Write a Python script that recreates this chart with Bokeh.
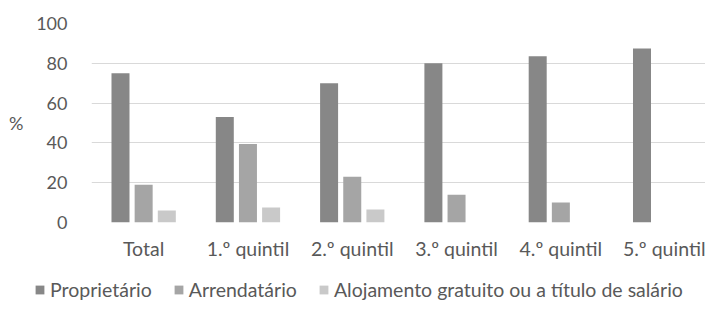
import numpy as np
from bokeh.plotting import figure
from bokeh.layouts import column, row
from bokeh.models import (ColumnDataSource, Range1d, FixedTicker, Legend, LegendItem, LinearAxis, Spacer)
from bokeh.transform import dodge
from bokeh.embed import file_html
from bokeh.resources import INLINE

categories = ["Total", "1.º quintil", "2.º quintil", "3.º quintil", "4.º quintil", "5.º quintil"]
series_names = ["Proprietário", "Arrendatário", "Alojamento gratuito ou a título de salário"]
proprietario = [75, 53, 70, 80, 83.5, 87.5]
arrendatario = [19, 39.5, 23, 14, 10, None]
alojamento = [6, 7.5, 6.5, None, None, None]
y_ticks = [0, 20, 40, 60, 80, 100]
y_title = "%"

colors = ["#878787", "#a5a5a5", "#c9c9c9"]
TXT = "#595959"
FONT = "Lato"
FS = "19.5px"

idx = list(range(len(categories)))
src = ColumnDataSource(dict(
    x=idx,
    s0=np.array(proprietario, dtype=float),
    s1=np.array([np.nan if v is None else v for v in arrendatario], dtype=float),
    s2=np.array([np.nan if v is None else v for v in alojamento], dtype=float),
))

W = 705
H_MAIN, H_LEG = 262, 39
left, top = 91, 23
bottom = H_MAIN - 223
frame_w = W - left
cat_px = 104.3

p = figure(width=W, height=H_MAIN, output_backend="svg", toolbar_location=None,
           x_range=Range1d(-0.5, -0.5 + frame_w / cat_px), y_range=Range1d(0, 100),
           min_border_left=left, min_border_right=0, min_border_top=top,
           min_border_bottom=bottom)
p.outline_line_color = None
p.background_fill_color = None
p.border_fill_color = None

offsets = [-0.222, 0.0, 0.222]
bw = 18 / cat_px
for i, off in enumerate(offsets):
    p.vbar(x=dodge("x", off), top="s%d" % i, bottom=0, width=bw, source=src,
           fill_color=colors[i], line_color=None)

p.xgrid.grid_line_color = None
p.ygrid.grid_line_color = "#d9d9d9"
p.ygrid.grid_line_width = 1
p.ygrid.ticker = FixedTicker(ticks=y_ticks)

p.yaxis.ticker = FixedTicker(ticks=y_ticks)
p.xaxis.ticker = FixedTicker(ticks=idx)
p.xaxis.major_label_overrides = {i: c for i, c in enumerate(categories)}

pct_axis = LinearAxis(ticker=FixedTicker(ticks=[50]), major_label_overrides={50: y_title})
p.add_layout(pct_axis, "left")

for ax in (p.xaxis[0], p.yaxis[0], pct_axis):
    ax.axis_line_color = None
    ax.major_tick_line_color = None
    ax.minor_tick_line_color = None
    ax.major_tick_out = 0
    ax.major_tick_in = 0
    ax.minor_tick_out = 0
    ax.minor_tick_in = 0
    ax.major_label_text_color = TXT
    ax.major_label_text_font = FONT
    ax.major_label_text_font_size = FS
p.yaxis[0].major_label_text_font_size = "18px"
p.yaxis[0].major_label_standoff = 24
pct_axis.major_label_text_font_size = "18px"
pct_axis.major_label_standoff = 10
p.xaxis[0].major_label_standoff = 14

# legend strip (its swatches come from the same data, kept out of its view)
LEG_X = 34
lf = figure(width=W - LEG_X, height=H_LEG, output_backend="svg", toolbar_location=None,
            x_axis_type=None, y_axis_type=None, x_range=Range1d(0, 1), y_range=Range1d(1000, 1001),
            min_border_left=0, min_border_right=0, min_border_top=0, min_border_bottom=0)
lf.outline_line_color = None
lf.xgrid.grid_line_color = None
lf.ygrid.grid_line_color = None
lf.background_fill_color = None
lf.border_fill_color = None
leg_r = [lf.vbar(x="x", top="s%d" % i, bottom=0, width=0.1, source=src,
                 fill_color=colors[i], line_color=None) for i in range(3)]
legend = Legend(items=[LegendItem(label=series_names[i], renderers=[leg_r[i]]) for i in range(3)],
                orientation="horizontal", location="bottom_left",
                glyph_width=11, glyph_height=11, label_standoff=5, spacing=21,
                padding=0, margin=0, border_line_color=None, background_fill_alpha=0,
                label_text_color=TXT, label_text_font=FONT, label_text_font_size=FS,
                label_height=20)
lf.add_layout(legend, "center")

layout = column(p, row(Spacer(width=LEG_X, height=H_LEG), lf, spacing=0), spacing=0)
open("out.html", "w").write(file_html(layout, INLINE))
